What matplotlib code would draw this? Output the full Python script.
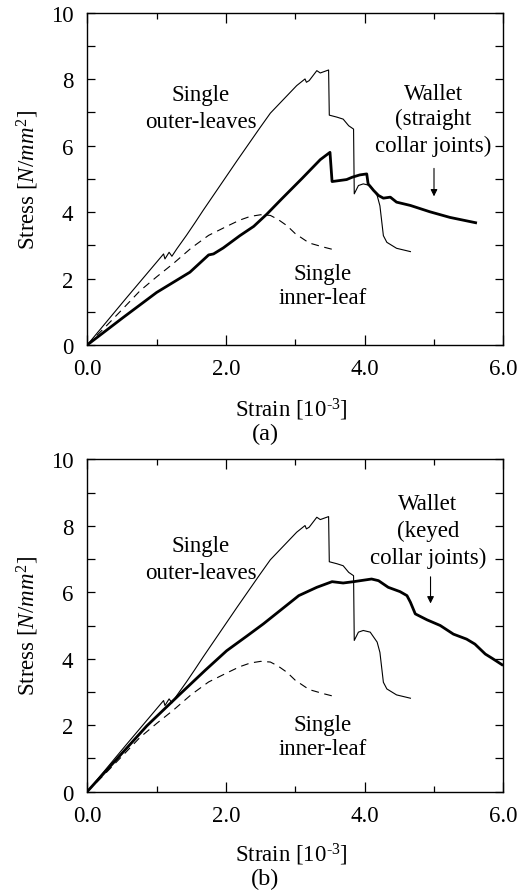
import numpy as np
import matplotlib
matplotlib.use('Agg')
import matplotlib.pyplot as plt

plt.rcParams['font.family'] = ['Liberation Serif', 'DejaVu Serif']
plt.rcParams['mathtext.fontset'] = 'custom'
plt.rcParams['mathtext.rm'] = 'Liberation Serif'
plt.rcParams['mathtext.it'] = 'Liberation Serif:italic'

# single outer-leaves (same test in both panels)
outer_strain = [0, 0.55, 1.10, 1.12, 1.18, 1.22, 1.29, 1.43, 1.55, 1.67, 2.16, 2.49,
                2.64, 3.02, 3.14, 3.16, 3.20, 3.31, 3.36, 3.48, 3.49, 3.60, 3.69,
                3.77, 3.84, 3.85, 3.91, 3.98, 4.08, 4.18, 4.22, 4.27, 4.32, 4.46, 4.66]
outer_stress = [0, 1.38, 2.74, 2.59, 2.79, 2.67, 2.89, 3.30, 3.67, 4.05, 5.55, 6.54,
                6.98, 7.81, 8.01, 7.91, 7.96, 8.26, 8.19, 8.28, 6.92, 6.86, 6.80,
                6.60, 6.50, 4.55, 4.80, 4.85, 4.80, 4.50, 4.19, 3.29, 3.09, 2.91, 2.81]

# single inner-leaf (dashed)
inner_strain = [0, 0.25, 0.50, 0.76, 1.00, 1.24, 1.50, 1.75, 2.03, 2.20, 2.35, 2.50,
                2.64, 2.75, 2.88, 3.00, 3.20, 3.40, 3.55]
inner_stress = [0, 0.52, 1.06, 1.63, 2.05, 2.45, 2.92, 3.30, 3.59, 3.76, 3.87, 3.92,
                3.90, 3.78, 3.59, 3.35, 3.07, 2.95, 2.87]

# wallet, straight collar joints
wall_a_strain = [0, 0.52, 1.00, 1.48, 1.75, 1.82, 1.96, 2.20, 2.40, 2.59, 2.80, 3.10,
                 3.36, 3.50, 3.53, 3.74, 3.82, 3.93, 4.03, 4.05, 4.13, 4.20, 4.27,
                 4.37, 4.46, 4.66, 4.94, 5.23, 5.60]
wall_a_stress = [0, 0.83, 1.58, 2.19, 2.71, 2.74, 2.92, 3.29, 3.57, 3.94, 4.39, 5.02,
                 5.58, 5.80, 4.92, 4.98, 5.05, 5.12, 5.15, 4.85, 4.65, 4.50, 4.42,
                 4.45, 4.30, 4.20, 4.01, 3.84, 3.68]

# wallet, keyed collar joints
wall_b_strain = [0, 0.50, 0.86, 1.34, 1.70, 2.01, 2.30, 2.54, 2.78, 3.05, 3.31, 3.53,
                 3.69, 3.84, 4.10, 4.20, 4.34, 4.51, 4.61, 4.66, 4.73, 4.90, 5.09,
                 5.28, 5.47, 5.59, 5.74, 5.84, 5.98]
wall_b_stress = [0, 1.15, 1.98, 2.94, 3.65, 4.24, 4.68, 5.05, 5.45, 5.90, 6.15, 6.32,
                 6.28, 6.32, 6.40, 6.35, 6.15, 6.02, 5.90, 5.70, 5.35, 5.17, 5.00,
                 4.74, 4.59, 4.44, 4.14, 4.01, 3.82]

fig = plt.figure(figsize=(5.30, 8.95), dpi=100)
ax_a = fig.add_axes([0.1647, 0.6135, 0.785, 0.371])
ax_b = fig.add_axes([0.1647, 0.1145, 0.785, 0.371])

fs = 16.5

def setup(ax, tag, xlab_y, tag_y):
    ax.set_xlim(0, 6)
    ax.set_ylim(0, 10)
    ax.set_xticks([0, 2, 4, 6])
    ax.set_xticklabels(['0.0', '2.0', '4.0', '6.0'])
    ax.set_xticks([1, 3, 5], minor=True)
    ax.set_yticks([0, 2, 4, 6, 8, 10])
    ax.set_yticks([1, 3, 5, 7, 9], minor=True)
    ax.tick_params(which='both', direction='in', top=True, right=True,
                   labelsize=fs, width=0.9)
    ax.tick_params(axis='x', which='major', length=7, pad=9.5)
    ax.tick_params(axis='x', which='minor', length=4.3)
    ax.tick_params(axis='y', which='both', length=5.5, pad=10)
    for s in ax.spines.values():
        s.set_linewidth(1.0)
    ax.set_ylabel(r'Stress [$N/mm^{\mathrm{2}}$]', fontsize=fs)
    ax.yaxis.label.set_va('center')
    ax.yaxis.set_label_coords(-0.143, 0.5)
    ax.set_xlabel(r'Strain [10$^{\text{-3}}$]', fontsize=fs)
    ax.xaxis.label.set_va('center')
    ax.xaxis.set_label_coords(0.491, xlab_y)
    ax.text(0.427, tag_y, tag, transform=ax.transAxes, ha='center', va='center',
            fontsize=fs + 1)

for ax in (ax_a, ax_b):
    ax.plot(outer_strain, outer_stress, color='k', lw=0.8)
    ax.plot(inner_strain, inner_stress, color='k', lw=0.8, dashes=(7, 5))

ax_a.plot(wall_a_strain, wall_a_stress, color='k', lw=2.0)
ax_b.plot(wall_b_strain, wall_b_stress, color='k', lw=2.0)

setup(ax_a, '(a)', -0.193, -0.268)
setup(ax_b, '(b)', -0.187, -0.262)

# annotations panel (a)
ax_a.text(1.64, 7.53, 'Single', ha='center', va='center', fontsize=fs)
ax_a.text(1.64, 6.72, 'outer-leaves', ha='center', va='center', fontsize=fs)
ax_a.text(4.99, 7.58, 'Wallet', ha='center', va='center', fontsize=fs)
ax_a.text(4.99, 6.82, '(straight', ha='center', va='center', fontsize=fs)
ax_a.text(4.99, 6.02, 'collar joints)', ha='center', va='center', fontsize=fs)
ax_a.text(3.40, 2.14, 'Single', ha='center', va='center', fontsize=fs)
ax_a.text(3.40, 1.43, 'inner-leaf', ha='center', va='center', fontsize=fs)
ax_a.annotate('', xy=(5.0, 4.39), xytext=(5.0, 5.40),
              arrowprops=dict(arrowstyle='-|>', color='k', lw=0.8, mutation_scale=10))

# annotations panel (b)
ax_b.text(1.64, 7.40, 'Single', ha='center', va='center', fontsize=fs)
ax_b.text(1.64, 6.60, 'outer-leaves', ha='center', va='center', fontsize=fs)
ax_b.text(4.91, 8.66, 'Wallet', ha='center', va='center', fontsize=fs)
ax_b.text(4.91, 7.85, '(keyed', ha='center', va='center', fontsize=fs)
ax_b.text(4.91, 7.05, 'collar joints)', ha='center', va='center', fontsize=fs)
ax_b.text(3.40, 2.03, 'Single', ha='center', va='center', fontsize=fs)
ax_b.text(3.40, 1.29, 'inner-leaf', ha='center', va='center', fontsize=fs)
ax_b.annotate('', xy=(4.95, 5.58), xytext=(4.95, 6.55),
              arrowprops=dict(arrowstyle='-|>', color='k', lw=0.8, mutation_scale=10))

fig.savefig('out.png', dpi=100)
